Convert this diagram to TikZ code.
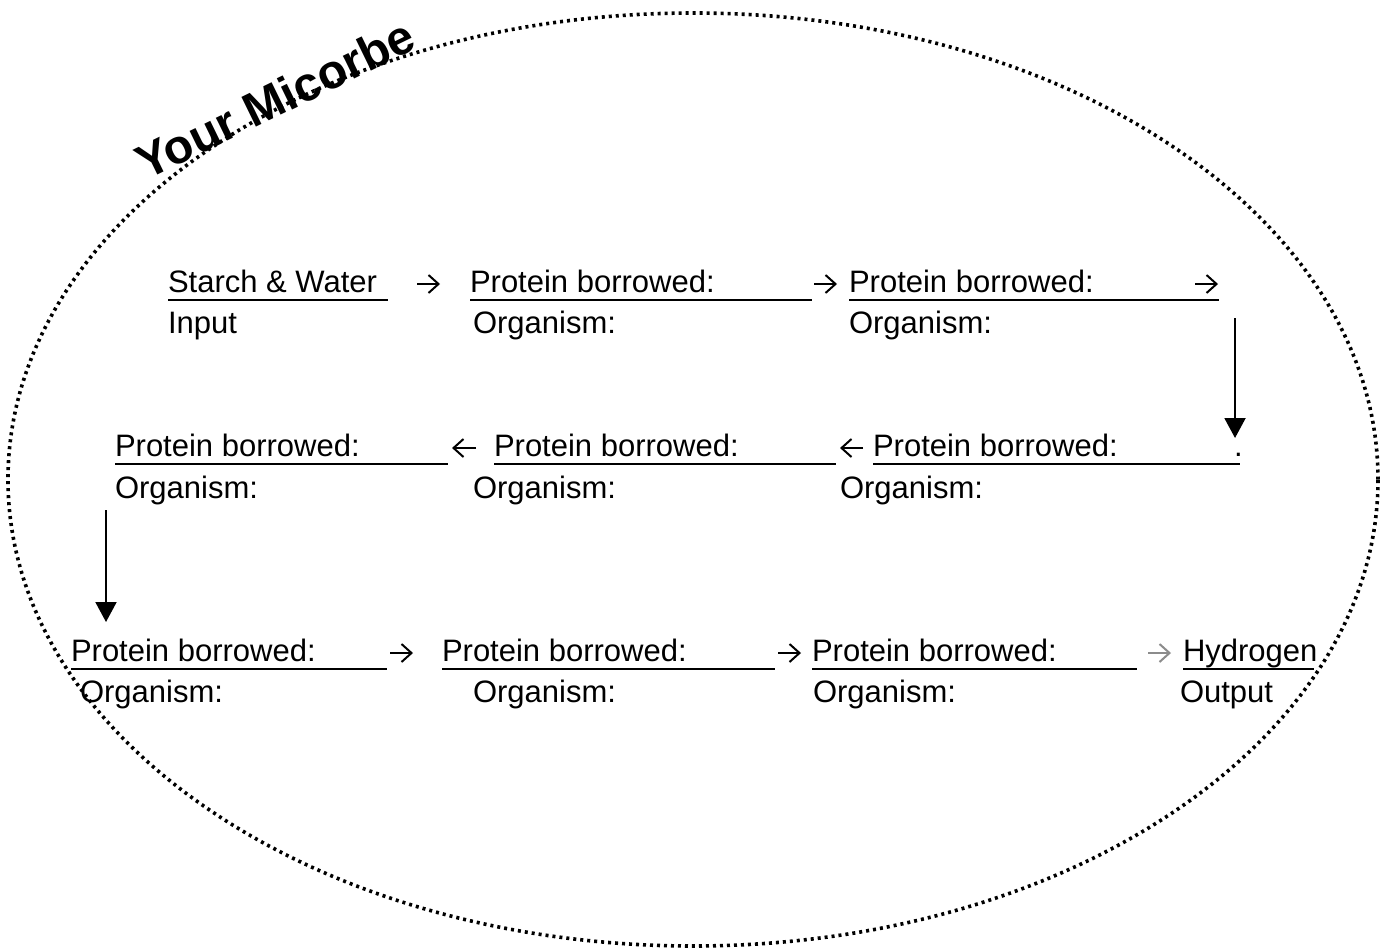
\documentclass[tikz,border=0pt]{standalone}
\usepackage{fontspec}
\setmainfont{Liberation Sans}
\usetikzlibrary{arrows.meta}
\definecolor{arrgray}{RGB}{140,140,140}
\begin{document}
\begin{tikzpicture}[x=0.5pt,y=-0.5pt,
  lbl/.style={anchor=base west, inner sep=0pt, outer sep=0pt, font=\fontsize{15.5}{18}\selectfont},
  harr/.style={line width=1pt, -{Straight Barb[length=5pt,width=9pt,line width=1pt]}},
  uline/.style={line width=1.3pt},
  down/.style={line width=1pt, -{Triangle[width=10.5pt,length=10pt]}},
  dotline/.style={line width=1.8pt, dash pattern=on 1.5pt off 2pt}
]
\useasboundingbox (0,0) rectangle (1384,947);
\fill[white] (0,0) rectangle (1384,947);
\draw[dotline] (693,479.5) ellipse [x radius=342.5pt, y radius=233.25pt];

\node[anchor=base west, rotate=26, inner sep=0pt, font=\bfseries\fontsize{24}{28}\selectfont] (title) at (146,181) {Your Micorbe};

% Row 1
\node[lbl] (r1a) at (168,292) {Starch \& Water};
\draw[uline] (168,300) -- (388,300);
\node[lbl] (r1al) at (168,333) {Input};
\coordinate (h1s) at (417,284); \coordinate (h1e) at (440,284);
\draw[harr] (h1s) -- (h1e);
\node[lbl] (r1b) at (470,292) {Protein borrowed:};
\draw[uline] (470,300) -- (812,300);
\node[lbl] (r1bl) at (473,333) {Organism:};
\coordinate (h2s) at (814,284); \coordinate (h2e) at (837,284);
\draw[harr] (h2s) -- (h2e);
\node[lbl] (r1c) at (849,292) {Protein borrowed:};
\coordinate (h3s) at (1195,284); \coordinate (h3e) at (1218,284);
\draw[harr] (h3s) -- (h3e);
\draw[uline] (849,300) -- (1219,300);
\node[lbl] (r1cl) at (849,333) {Organism:};

\coordinate (v1s) at (1235,318);
\coordinate (v1e) at (1235,438);
\draw[down] (v1s) -- (v1e);

% Row 2
\node[lbl] (r2a) at (115,456) {Protein borrowed:};
\draw[uline] (115,464) -- (448,464);
\node[lbl] (r2al) at (115,498) {Organism:};
\coordinate (h4s) at (476,448); \coordinate (h4e) at (452,448);
\draw[harr] (h4s) -- (h4e);
\node[lbl] (r2b) at (494,456) {Protein borrowed:};
\draw[uline] (494,464) -- (836,464);
\node[lbl] (r2bl) at (473,498) {Organism:};
\coordinate (h5s) at (863,448); \coordinate (h5e) at (840,448);
\draw[harr] (h5s) -- (h5e);
\node[lbl] (r2c) at (873,456) {Protein borrowed:};
\node[lbl] (r2dot) at (1234,456) {.};
\draw[uline] (873,464) -- (1240,464);
\node[lbl] (r2cl) at (840,498) {Organism:};

\coordinate (v2s) at (106,510);
\coordinate (v2e) at (106,622);
\draw[down] (v2s) -- (v2e);

% Row 3
\node[lbl] (r3a) at (71,661) {Protein borrowed:};
\draw[uline] (71,669) -- (387,669);
\node[lbl] (r3al) at (80,702) {Organism:};
\coordinate (h6s) at (390,653); \coordinate (h6e) at (413,653);
\draw[harr] (h6s) -- (h6e);
\node[lbl] (r3b) at (442,661) {Protein borrowed:};
\draw[uline] (442,669) -- (775,669);
\node[lbl] (r3bl) at (473,702) {Organism:};
\coordinate (h7s) at (778,653); \coordinate (h7e) at (801,653);
\draw[harr] (h7s) -- (h7e);
\node[lbl] (r3c) at (812,661) {Protein borrowed:};
\draw[uline] (812,669) -- (1137,669);
\node[lbl] (r3cl) at (813,702) {Organism:};
\coordinate (h8s) at (1148,653); \coordinate (h8e) at (1171,653);
\draw[harr, draw=arrgray] (h8s) -- (h8e);
\node[lbl] (out) at (1183,661) {Hydrogen};
\draw[uline] (1183,669) -- (1314,669);
\node[lbl] (outl) at (1180,702) {Output};
\end{tikzpicture}
\end{document}
